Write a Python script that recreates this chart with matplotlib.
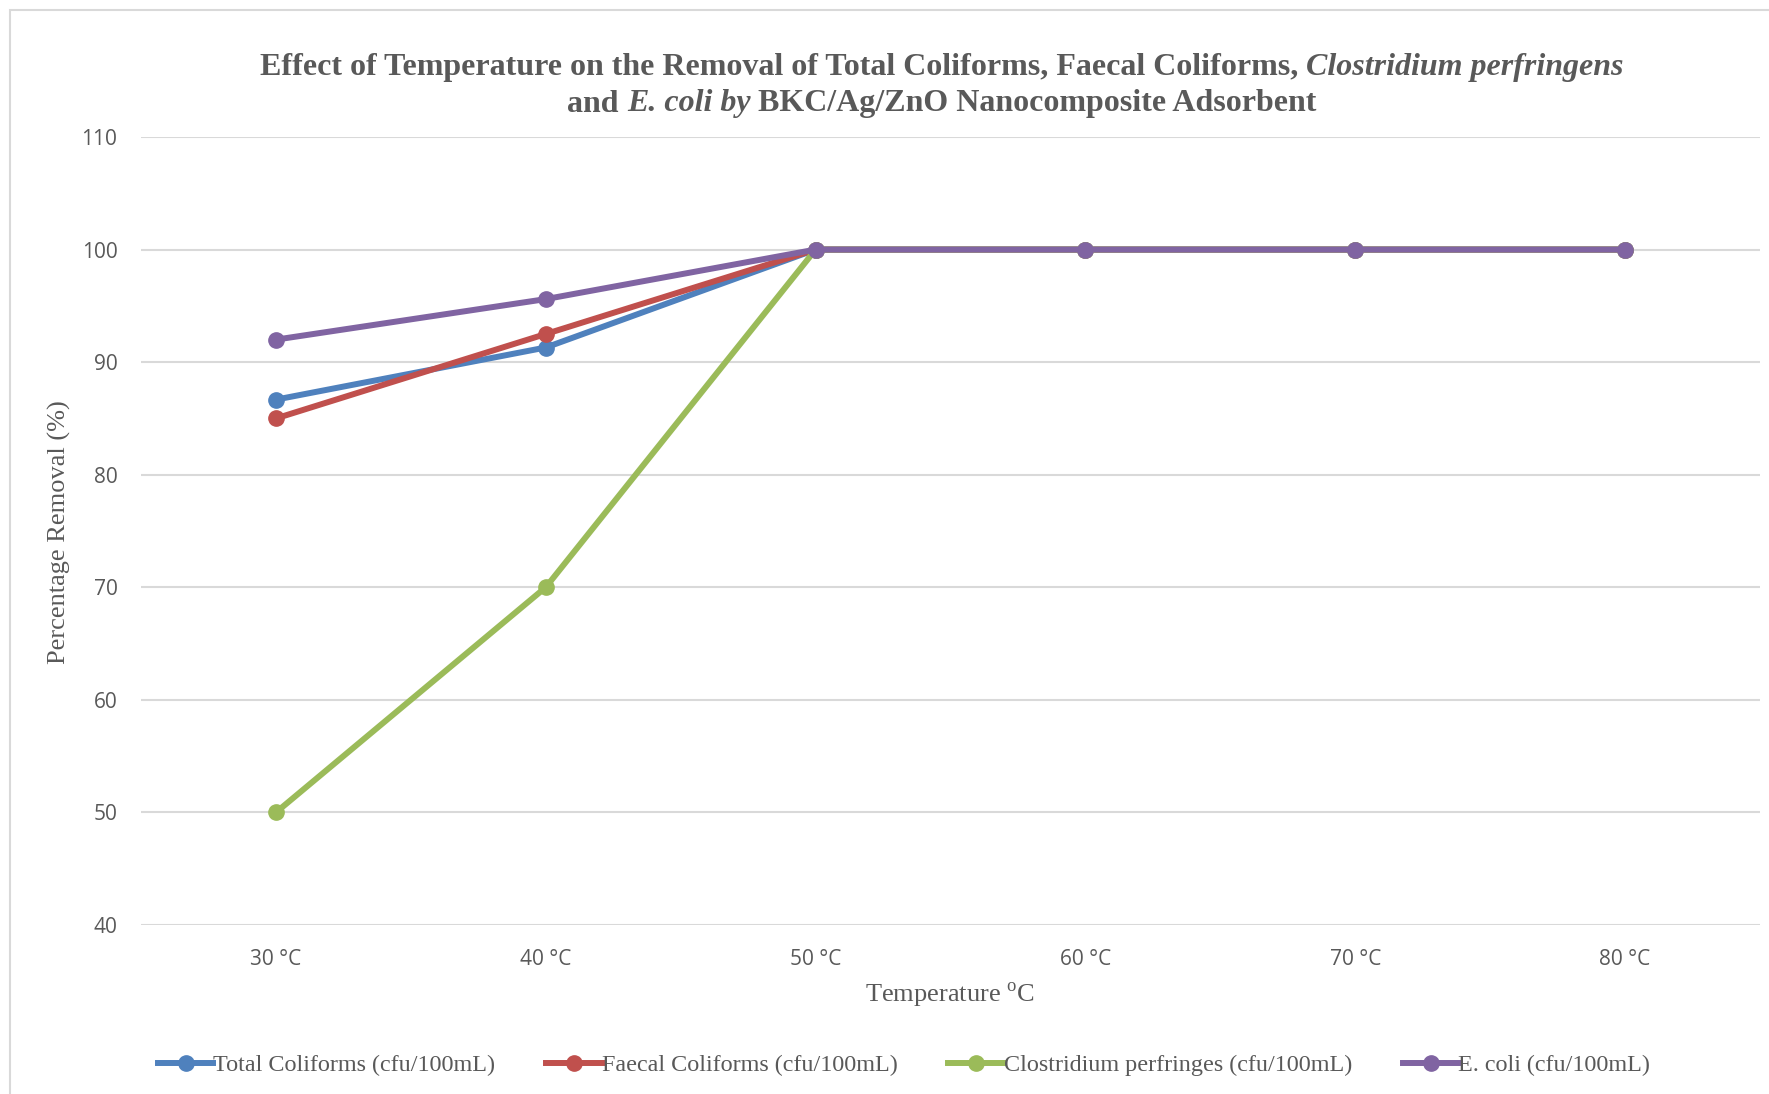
import matplotlib
matplotlib.use("Agg")
import matplotlib.pyplot as plt
from matplotlib.lines import Line2D
from matplotlib.patches import Rectangle

# Data
temperatures = ["30 °C", "40 °C", "50 °C", "60 °C", "70 °C", "80 °C"]
total_coliforms = [86.67, 91.3, 100, 100, 100, 100]
faecal_coliforms = [85.0, 92.5, 100, 100, 100, 100]
clostridium = [50.0, 70.0, 100, 100, 100, 100]
e_coli = [92.0, 95.6, 100, 100, 100, 100]

series_labels = [
    "Total Coliforms (cfu/100mL)",
    "Faecal Coliforms (cfu/100mL)",
    "Clostridium perfringes (cfu/100mL)",
    "E. coli (cfu/100mL)",
]
series_values = [total_coliforms, faecal_coliforms, clostridium, e_coli]
series_colors = ["#4F81BD", "#C0504D", "#9BBB59", "#8064A2"]
y_ticks = [40, 50, 60, 70, 80, 90, 100, 110]

W, H = 1769, 1094
DPI = 100
TEXT = "#595959"
GRID = "#D9D9D9"
SERIF = "Liberation Serif"
SANS = "Open Sans"
LW = 4.3
MS = 11

plt.rcParams["mathtext.fontset"] = "custom"
plt.rcParams["mathtext.rm"] = SERIF

fig = plt.figure(figsize=(W / DPI, H / DPI), dpi=DPI)
fig.patch.set_facecolor("white")

# outer chart border
fig.add_artist(Rectangle((10 / W, -0.01), 1.1, (H - 10) / H + 0.01,
                         transform=fig.transFigure, fill=False,
                         edgecolor=GRID, linewidth=1.5))

ax = fig.add_axes([141 / W, 169 / H, (1760 - 141) / W, (925 - 137) / H])
x = list(range(len(temperatures)))

for vals, col, lab in zip(series_values, series_colors, series_labels):
    ax.plot(x, vals, color=col, linewidth=LW, marker="o", markersize=MS,
            label=lab, solid_capstyle="round", zorder=3)

ax.set_xlim(-0.5, len(temperatures) - 0.5)
ax.set_ylim(40, 110)
ax.set_yticks(y_ticks)
ax.set_xticks(x)
ax.set_xticklabels(temperatures)
ax.grid(axis="y", color=GRID, linewidth=1.5)
ax.set_axisbelow(True)
for s in ax.spines.values():
    s.set_visible(False)
ax.tick_params(length=0, labelcolor=TEXT, labelsize=15, pad=17)
for lbl in ax.get_xticklabels() + ax.get_yticklabels():
    lbl.set_family(SANS)

fig.text(59 / W, 1 - 532 / H, "Percentage Removal (%)", rotation=90,
         ha="center", va="center", fontsize=19, family=SERIF, color=TEXT)
fig.text(950 / W, 1 - 995 / H, "Temperature $^{\\mathrm{o}}$C",
         ha="center", va="center", fontsize=19, family=SERIF, color=TEXT)

# Title with mixed upright / italic runs, centred line by line
title_lines = [
    (68, [("Effect of Temperature on the Removal of Total Coliforms, Faecal Coliforms, ", "normal"),
          ("Clostridium perfringens", "italic")]),
    (104, [("and ", "normal"), ("E. coli by", "italic"),
           (" BKC/Ag/ZnO Nanocomposite Adsorbent", "normal")]),
]
cx = 942
fig.canvas.draw()
renderer = fig.canvas.get_renderer()
for ypix, runs in title_lines:
    texts = []
    for s, style in runs:
        t = fig.text(0, 1 - ypix / H, s, ha="left", va="center", fontsize=23,
                     family=SERIF, weight="bold", style=style, color=TEXT)
        texts.append(t)
    widths = [t.get_window_extent(renderer).width for t in texts]
    total = sum(widths)
    xpos = cx - total / 2
    for t, w in zip(texts, widths):
        t.set_x(xpos / W)
        xpos += w

handles = [Line2D([0], [0], color=c, linewidth=LW, marker="o", markersize=MS)
           for c in series_colors]
leg = fig.legend(handles, series_labels, loc="center", ncol=4,
                 bbox_to_anchor=(904 / W, 29 / H), frameon=False,
                 handlelength=2.3, handletextpad=0.0, columnspacing=2.1,
                 prop={"family": SERIF, "size": 17.4})
for t in leg.get_texts():
    t.set_color(TEXT)

fig.savefig("out.png", dpi=DPI, facecolor="white")
